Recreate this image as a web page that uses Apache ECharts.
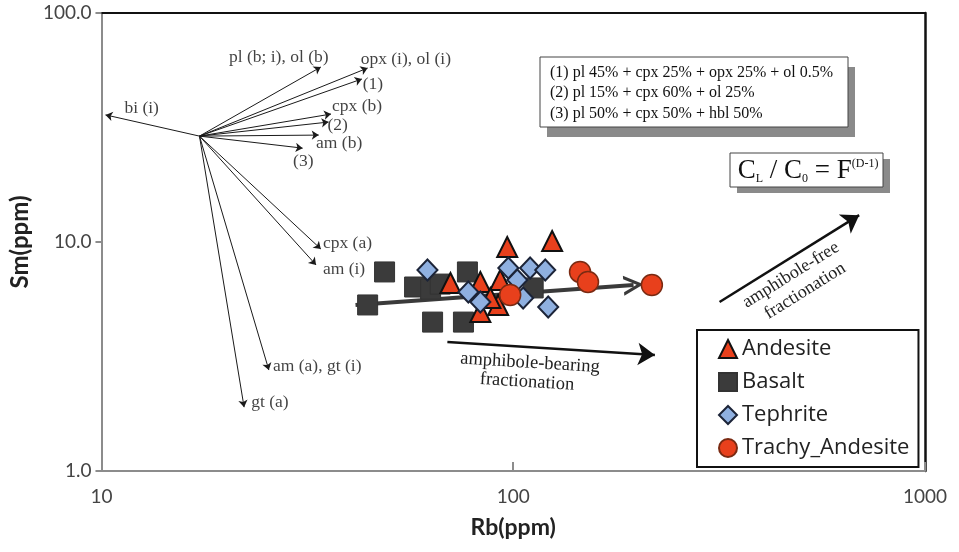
<!DOCTYPE html>
<html>
<head>
<meta charset="utf-8">
<script src="https://cdn.jsdelivr.net/npm/echarts@6/dist/echarts.min.js"></script>
<style>
html,body{margin:0;padding:0;background:#fff;}
#c{width:959px;height:552px;}
</style>
</head>
<body>
<div id="c"></div>
<script>
// ---- data (Rb ppm, Sm ppm) ----
const andesite = [[96.7,9.51],[124.3,10.1],[70.4,6.62],[83.2,6.69],[83.2,4.95],[91.9,5.31],[93.0,6.82],[88.0,5.69]];
const basalt = [[44.3,5.31],[48.7,7.40],[57.6,6.36],[63.0,6.23],[66.5,6.55],[63.7,4.47],[75.7,4.47],[77.4,7.40],[111.8,6.30]];
const tephrite = [[61.9,7.55],[77.8,6.05],[83.2,5.47],[97.3,7.70],[102.3,6.82],[105.7,5.69],[109.9,7.70],[119.6,7.55],[121.6,5.20]];
const trachyAndesite = [[98.3,5.87],[145.3,7.40],[151.9,6.69],[217.1,6.49]];

// fractionation vectors
const vectorOrigin = [17.3, 29.0];
const vectorEnds = [[10.23,35.9],[34.1,58.1],[44.3,57.5],[42.9,51.5],[36.1,36.2],[35.6,33.4],[33.7,29.3],[30.8,25.7],[34.1,9.32],[33.2,7.94],[25.5,2.76],[22.2,1.90]];
const vectorLabels = ['bi (i)','pl (b; i), ol (b)','opx (i), ol (i)','(1)','cpx (b)','(2)','am (b)','(3)','cpx (a)','am (i)','am (a), gt (i)','gt (a)'];
const vectorLabelAnchors = [[11.37,38.5],[20.4,64.3],[42.6,62.4],[43.1,48.6],[36.3,38.9],[35.4,32.4],[33.2,27.0],[29.2,22.5],[34.5,9.9],[34.5,7.6],[26.1,2.87],[23.1,2.00]];

// trend & fractionation arrows
const trendArrow = [[41.4,5.31],[196,6.49]];
const amphiboleBearing = [[69.2,3.66],[220.8,3.21]];
const amphiboleFree = [[317,5.47],[692,13.1]];

const xTicks = [10,100,1000];
const yTicks = [1,10,100];
const modelLines = ['(1) pl 45% + cpx 25% + opx 25% + ol 0.5%','(2) pl 15% + cpx 60% + ol 25%','(3) pl 50% + cpx 50% + hbl 50%'];

const serif = '"Liberation Serif", "DejaVu Serif", serif';
const sans = 'Lato, "Open Sans", sans-serif';
const RED = '#e8401c';

const chart = echarts.init(document.getElementById('c'));
const option = {
  animation:false,
  backgroundColor:'#fff',
  grid:{left:100,right:34,top:13,bottom:81},
  xAxis:[{
    type:'log',logBase:10,min:xTicks[0],max:xTicks[2],
    name:'Rb(ppm)',nameLocation:'middle',nameGap:45,
    nameTextStyle:{fontFamily:sans,fontWeight:'bold',fontSize:23,color:'#222'},
    axisLine:{lineStyle:{color:'#8c8c8c',width:2}},
    axisTick:{inside:true,length:9,lineStyle:{color:'#8c8c8c',width:2}},
    axisLabel:{fontFamily:sans,fontSize:19,color:'#444',margin:16,formatter:v=>String(v)},
    splitLine:{show:false},minorTick:{show:false}
  },{
    type:'log',logBase:10,min:xTicks[0],max:xTicks[2],position:'top',
    axisLine:{lineStyle:{color:'#111',width:2}},axisTick:{show:false},axisLabel:{show:false},splitLine:{show:false}
  }],
  yAxis:[{
    type:'log',logBase:10,min:yTicks[0],max:yTicks[2],
    name:'Sm(ppm)',nameLocation:'middle',nameGap:62,
    nameTextStyle:{fontFamily:sans,fontWeight:'bold',fontSize:24,color:'#222'},
    axisLine:{lineStyle:{color:'#8c8c8c',width:2}},
    axisTick:{length:6,lineStyle:{color:'#8c8c8c',width:2}},
    axisLabel:{fontFamily:sans,fontSize:19,color:'#444',margin:10,formatter:v=>v.toFixed(1)},
    splitLine:{show:false},minorTick:{show:false}
  },{
    type:'log',logBase:10,min:yTicks[0],max:yTicks[2],position:'right',
    axisLine:{lineStyle:{color:'#111',width:2.5}},axisTick:{show:false},axisLabel:{show:false},splitLine:{show:false}
  }],
  legend:{
    orient:'vertical',left:697,top:330,
    backgroundColor:'#fff',borderColor:'#111',borderWidth:2,
    padding:[8,9,8,21],itemGap:11,itemWidth:18,itemHeight:18,
    textStyle:{fontFamily:'"Open Sans", Lato, sans-serif',fontSize:22,color:'#222'},
    data:['Andesite','Basalt','Tephrite','Trachy_Andesite']
  },
  series:[
    {type:'lines',coordinateSystem:'cartesian2d',silent:true,z:2,
     symbol:['none','arrow'],symbolSize:7,
     lineStyle:{color:'#1a1a1a',width:1,opacity:1},
     data:vectorEnds.map(e=>({coords:[vectorOrigin,e]}))},
    {type:'scatter',silent:true,symbolSize:0,z:3,
     label:{show:true,position:'right',distance:0,fontFamily:serif,fontSize:17.5,color:'#111',formatter:p=>p.name},
     data:vectorLabelAnchors.map((a,i)=>({name:vectorLabels[i],value:a}))},
    {type:'lines',coordinateSystem:'cartesian2d',silent:true,z:2,
     symbol:['none','arrow'],symbolSize:[13,17],
     lineStyle:{color:'#111',width:2.5,opacity:1},
     data:[{coords:amphiboleBearing},{coords:amphiboleFree}]},
    {type:'lines',coordinateSystem:'cartesian2d',silent:true,z:2,
     symbol:['none','path://M0,16 L10,0 L20,16 L16.5,16 L10,5.5 L3.5,16 Z'],symbolSize:[26,20],
     lineStyle:{color:'#3a3a3a',width:4,opacity:1},
     data:[{coords:trendArrow}]},
    {name:'Basalt',type:'scatter',symbol:'rect',symbolSize:20,z:4,
     itemStyle:{color:'#3b3b3b',borderColor:'#333',borderWidth:1,opacity:1},data:basalt},
    {name:'Andesite',type:'scatter',symbol:'triangle',symbolSize:20,z:5,
     itemStyle:{color:RED,borderColor:'#111',borderWidth:2,opacity:1},data:andesite},
    {name:'Tephrite',type:'scatter',symbol:'diamond',symbolSize:[20,21],z:6,
     itemStyle:{color:'#8fb0e0',borderColor:'#1c2438',borderWidth:2,opacity:1},data:tephrite},
    {name:'Trachy_Andesite',type:'scatter',symbol:'circle',symbolSize:21,z:7,
     itemStyle:{color:RED,borderColor:'#7a2a12',borderWidth:1.5,opacity:1},data:trachyAndesite}
  ],
  graphic:[
    {type:'rect',shape:{x:547,y:67,width:308,height:70},style:{fill:'#8a8a8a'},z:10},
    {type:'rect',shape:{x:540,y:57,width:308,height:70},style:{fill:'#fff',stroke:'#444',lineWidth:1},z:11},
    {type:'text',x:550,y:73,style:{text:modelLines[0],font:'16px '+serif,fill:'#111',textVerticalAlign:'middle'},z:12},
    {type:'text',x:550,y:93,style:{text:modelLines[1],font:'16px '+serif,fill:'#111',textVerticalAlign:'middle'},z:12},
    {type:'text',x:550,y:114,style:{text:modelLines[2],font:'16px '+serif,fill:'#111',textVerticalAlign:'middle'},z:12},
    {type:'rect',shape:{x:737,y:159,width:153,height:34},style:{fill:'#8a8a8a'},z:10},
    {type:'rect',shape:{x:730,y:153,width:153,height:34},style:{fill:'#fff',stroke:'#444',lineWidth:1},z:11},
    {type:'text',x:808,y:171,z:12,style:{
      text:'C{sub|L} / C{sub|0} = F{sup|(D-1)}',
      font:'27px '+serif,fill:'#111',textAlign:'center',textVerticalAlign:'middle',
      rich:{sub:{fontSize:12,fontFamily:serif,verticalAlign:'bottom',padding:[11,0,0,0]},
            sup:{fontSize:12,fontFamily:serif,verticalAlign:'top',padding:[0,0,13,0]}}}},
    {type:'text',x:530,y:363,rotation:-0.062,z:12,style:{text:'amphibole-bearing',font:'18.5px '+serif,fill:'#222',textAlign:'center',textVerticalAlign:'middle'}},
    {type:'text',x:527,y:382,rotation:-0.062,z:12,style:{text:'fractionation',font:'18.5px '+serif,fill:'#222',textAlign:'center',textVerticalAlign:'middle'}},
    {type:'text',x:791,y:275,rotation:0.557,z:12,style:{text:'amphibole-free',font:'18px '+serif,fill:'#222',textAlign:'center',textVerticalAlign:'middle'}},
    {type:'text',x:805,y:291,rotation:0.557,z:12,style:{text:'fractionation',font:'18px '+serif,fill:'#222',textAlign:'center',textVerticalAlign:'middle'}}
  ]
};
chart.setOption(option);
</script>
</body>
</html>
